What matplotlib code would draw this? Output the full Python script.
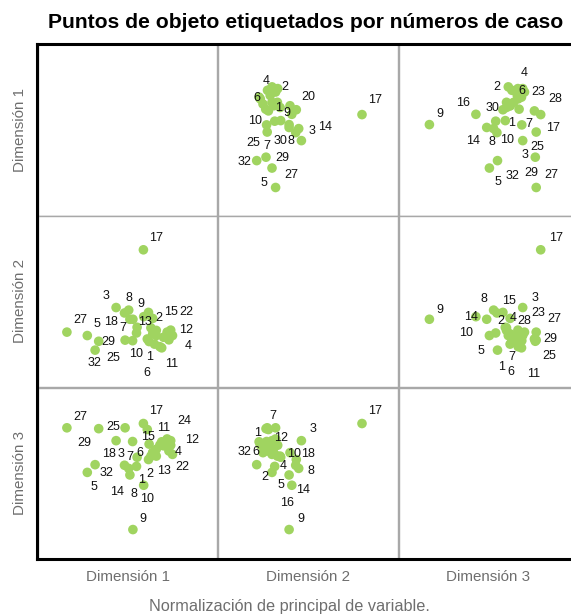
import matplotlib
matplotlib.use("Agg")
import matplotlib.pyplot as plt
from matplotlib.lines import Line2D

plt.rcParams['font.family'] = ['Liberation Sans', 'DejaVu Sans']

# ---- data: object scores (case number, dimension 1..3) ----
case_ids = list(range(1, 33))
dim1 = [0.72, 0.78, -0.38, 1.38, -1.34, 1.08, 0.32, 0.04, 0.18, 0.17,
        1.14, 1.44, 0.96, 0.08, 0.84, 0.54, 0.53, 0.30, 0.96, 0.70,
        1.20, 1.50, 1.32, 1.44, -0.08, 0.90, -2.02, 0.66, -0.96, -0.10,
        0.84, -1.08]
dim2 = [-1.41, -0.93, -0.22, -1.35, -1.20, -1.59, -0.91, -0.31, -0.63, -1.38,
        -1.63, -1.01, -1.02, -0.63, -0.60, -0.54, 1.80, -1.11, -1.20, -0.39,
        -1.26, -1.20, -1.08, -1.20, -1.36, -1.50, -1.08, -1.32, -1.40, -0.41,
        -1.14, -1.71]
dim3 = [1.02, 0.60, 1.14, 0.78, 0.03, 0.99, 0.56, 0.17, -1.97, 1.11,
        1.10, 0.98, 0.60, -0.06, 0.72, -0.42, 1.74, 0.24, 0.84, 0.48,
        0.96, 0.66, 1.20, 1.14, 1.59, 0.72, 1.59, 1.53, 1.56, 0.28,
        0.72, 0.30]
dims = [dim1, dim2, dim3]
dim_names = ["Dimensión 1", "Dimensión 2", "Dimensión 3"]

title = "Puntos de objeto etiquetados por números de caso"
footer = "Normalización de principal de variable."

# ---- label placement (layout only): centre of each visible case label,
# in figure pixels from the top-left, per panel (row dim, column dim) ----
label_place = {
    (0, 1): {4: (265.7, 80.7), 2: (284.7, 87.3), 6: (257.3, 98.3), 20: (308.7, 96.7),
             1: (278.7, 108.3), 9: (287.3, 112.7), 10: (254.7, 121), 14: (325.3, 126.7),
             3: (312, 131), 25: (253, 143.3), 7: (267.3, 146), 30: (280.7, 141),
             8: (291.3, 141), 32: (244, 161.7), 29: (282, 158.3), 5: (264, 182.7),
             27: (291.3, 175), 17: (375.3, 100)},
    (0, 2): {4: (524, 72.7), 2: (497.3, 86.7), 6: (522, 90.7), 23: (538.7, 91.7),
             28: (555.3, 99.3), 16: (463, 103.3), 30: (492.3, 108.3), 9: (439.7, 114.3),
             1: (511.3, 122.7), 7: (529, 124), 17: (553, 128.3), 14: (473, 140.7),
             8: (492, 141.7), 10: (507.3, 140), 25: (537.3, 146.7), 3: (524.7, 155),
             5: (498, 181.7), 32: (512, 176), 29: (531.3, 172.7), 27: (551.3, 175)},
    (1, 0): {17: (156.3, 237.7), 3: (106.3, 295.7), 8: (128.7, 297.7), 9: (140.7, 304.3),
             27: (80.7, 320), 5: (97.3, 324.3), 18: (111.3, 322.3), 7: (123, 327.7),
             13: (145.3, 321.7), 2: (159, 318.3), 15: (171.3, 311.7), 22: (186.3, 311.7),
             12: (186.3, 330), 29: (108, 341.7), 4: (188, 345.7), 32: (94.7, 363.3),
             25: (113, 358.3), 10: (136.3, 354.3), 1: (149.7, 356.7), 11: (171.3, 364.3),
             6: (147.3, 373.3)},
    (1, 2): {17: (556.3, 237.7), 9: (439.7, 310), 8: (484, 299), 15: (509, 301),
             3: (535.3, 297.7), 14: (471.3, 316.7), 2: (500.7, 321), 4: (513, 317.7),
             28: (524, 321), 23: (538, 313.3), 27: (554, 319), 10: (466.3, 333.3),
             29: (550.3, 339), 5: (481.3, 351), 7: (512, 356.7), 25: (549.7, 355.7),
             1: (502, 366.7), 6: (511.3, 372.3), 11: (534, 374.3)},
    (2, 0): {27: (80.7, 416.7), 25: (113, 427.3), 17: (156.3, 410.7), 24: (184, 420.7),
             11: (164, 428.3), 29: (84.7, 442.7), 15: (148, 437.3), 12: (192, 440),
             18: (109, 454.3), 3: (121.3, 454.3), 7: (129.7, 456.7), 6: (139.7, 452.7),
             4: (178, 451.7), 32: (106.3, 473.3), 2: (149.7, 474), 13: (164, 470.7),
             22: (182, 467.3), 5: (94, 486.7), 14: (117.3, 491.7), 1: (141.3, 480),
             8: (133.7, 494), 10: (147.3, 499.3), 9: (143, 519.3)},
    (2, 1): {7: (273, 416), 1: (257.3, 432.7), 12: (281.3, 437.7), 3: (313, 429.3),
             32: (244.7, 452.3), 6: (256.3, 452.3), 10: (294, 454.3), 18: (308, 454.3),
             4: (283, 466), 2: (264.7, 477.3), 8: (310.7, 471), 5: (281.3, 485),
             14: (303, 490), 16: (287.3, 503.3), 9: (300.7, 519.3), 17: (374.7, 410.7)},
}

# ---- layout ----
W, H = 571, 616
fig = plt.figure(figsize=(W / 100, H / 100), dpi=100)
col_left = [37.5, 218.0, 398.5]
row_top = [44.0, 215.5, 387.5]
pw, ph = 180.0, 171.5
green = "#a0d460"
gray_frame = "#a8a8a8"
text_gray = "#6e6e6e"
lim = (-3, 3)

for r in range(3):
    for c in range(3):
        ax = fig.add_axes([col_left[c] / W, 1 - (row_top[r] + ph) / H, pw / W, ph / H])
        ax.set_xlim(*lim)
        ax.set_ylim(*lim)
        ax.set_xticks([])
        ax.set_yticks([])
        for s in ax.spines.values():
            s.set_color(gray_frame)
            s.set_linewidth(1.0)
        if r == c:
            continue
        xs = dims[c]
        ys = dims[r]
        ax.scatter(xs, ys, s=48, color=green, edgecolors="none", zorder=2, clip_on=False)
        for cid, (lx, ly) in label_place[(r, c)].items():
            i = case_ids.index(cid)
            ax.annotate(str(cid), (xs[i], ys[i]), xytext=(lx, H - ly), textcoords="figure pixels",
                        ha="center", va="center", fontsize=9, color="#111111", zorder=3,
                        annotation_clip=False)

# outer black frame (left, top, bottom)
x0 = 37.0 / W
y_top = 1 - 44.0 / H
y_bot = 1 - 559.0 / H
fig.add_artist(Line2D([x0, x0], [y_bot, y_top], color="black", lw=2.2, transform=fig.transFigure))
fig.add_artist(Line2D([x0, 1.02], [y_top, y_top], color="black", lw=2.2, transform=fig.transFigure))
fig.add_artist(Line2D([x0, 1.02], [y_bot, y_bot], color="black", lw=2.2, transform=fig.transFigure))

fig.text(306 / W, 1 - 23 / H, title, ha="center", va="center", fontsize=15.2, fontweight="bold", color="black")
for k in range(3):
    cy = row_top[k] + ph / 2
    fig.text(20 / W, 1 - cy / H, dim_names[k], rotation=90, ha="center", va="center",
             fontsize=10.9, color=text_gray)
    cx = col_left[k] + pw / 2
    fig.text(cx / W, 1 - 577 / H, dim_names[k], ha="center", va="center", fontsize=10.9, color=text_gray)
fig.text(289 / W, 1 - 606 / H, footer, ha="center", va="center", fontsize=11.7, color=text_gray)

fig.savefig("out.png", dpi=100)
